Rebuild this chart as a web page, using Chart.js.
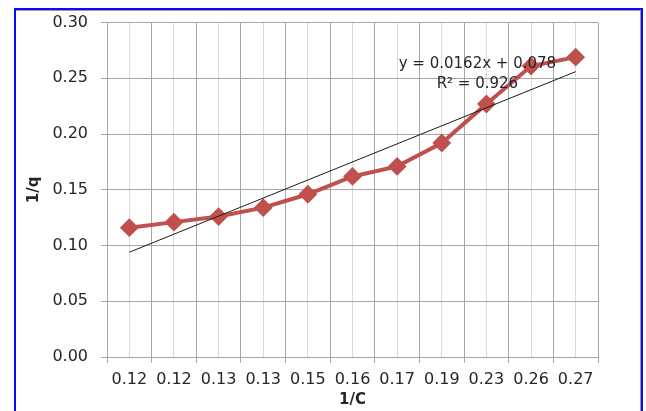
<!DOCTYPE html>
<html lang="en">
<head>
    <meta charset="UTF-8">
    <title>1/q vs 1/C</title>
    <script src="https://cdn.jsdelivr.net/npm/chart.js"></script>
    <style>
        body {
            margin: 0;
            background-color: #ffffff;
        }
        .wrap {
            position: relative;
            width: 646px;
            height: 411px;
            overflow: hidden;
        }
        .frame {
            position: absolute;
            left: 14px;
            top: 8px;
            width: 625px;
            height: 440px;
            border: 2px solid #0a0aff;
            box-shadow: inset 0 1px 0 #9a9a9a, inset -1px 0 0 #9a9a9a;
        }
        canvas {
            position: absolute;
            left: 0;
            top: 0;
        }
    </style>
</head>
<body>
    <div class="wrap">
        <div class="frame"></div>
        <canvas id="chart" width="646" height="411"></canvas>
    </div>

    <script>
        // data
        const categories = ['0.12', '0.12', '0.13', '0.13', '0.15', '0.16', '0.17', '0.19', '0.23', '0.26', '0.27'];
        const qValues = [0.116, 0.121, 0.126, 0.134, 0.146, 0.162, 0.171, 0.192, 0.227, 0.261, 0.269];
        const trendValues = [0.094, null, null, null, null, null, null, null, null, null, 0.256];
        const yTicks = [0, 0.05, 0.10, 0.15, 0.20, 0.25, 0.30];
        const equationLines = ['y = 0.0162x + 0.078', 'R² = 0.926'];

        const FONT = 'DejaVu Sans';
        const TEXT = '#262626';
        const MAJOR = '#a6a6a6';
        const MINOR = '#d9d9d9';

        // equation label of the trend line
        const equationPlugin = {
            id: 'equation',
            afterDatasetsDraw(chart) {
                const ctx = chart.ctx;
                const x = chart.scales.x.getPixelForValue(8) - 9;
                const y = chart.scales.y.getPixelForValue(0.263);
                ctx.save();
                ctx.font = '15px "' + FONT + '"';
                ctx.fillStyle = TEXT;
                ctx.textAlign = 'center';
                ctx.textBaseline = 'middle';
                equationLines.forEach((t, i) => ctx.fillText(t, x, y + i * 20));
                ctx.restore();
            }
        };

        new Chart(document.getElementById('chart'), {
            type: 'line',
            data: {
                labels: categories,
                datasets: [{
                    label: 'Linear (1/q)',
                    data: trendValues,
                    borderColor: '#1a1a1a',
                    borderWidth: 1,
                    pointRadius: 0,
                    spanGaps: true,
                    fill: false
                }, {
                    label: '1/q',
                    data: qValues,
                    borderColor: '#c0504d',
                    backgroundColor: '#c0504d',
                    borderWidth: 4,
                    pointStyle: 'rectRot',
                    pointRadius: 8,
                    pointBorderWidth: 2,
                    pointHoverRadius: 8,
                    fill: false
                }]
            },
            options: {
                responsive: false,
                animation: false,
                layout: { padding: { top: 21, right: 48, left: 0, bottom: 0 } },
                plugins: {
                    legend: { display: false },
                    tooltip: { enabled: false }
                },
                scales: {
                    x: {
                        type: 'category',
                        offset: true,
                        grid: { offset: true, color: MAJOR, tickLength: 6 },
                        border: { color: MAJOR },
                        ticks: {
                            color: TEXT,
                            font: { family: FONT, size: 16 },
                            padding: 7,
                            maxRotation: 0,
                            autoSkip: false
                        },
                        title: {
                            display: true,
                            text: '1/C',
                            color: TEXT,
                            font: { family: FONT, size: 15, weight: 'bold' },
                            padding: { top: 0, bottom: 2 }
                        },
                        afterFit(scale) { scale.height = 54; }
                    },
                    x2: {
                        type: 'category',
                        position: 'bottom',
                        offset: true,
                        grid: { offset: false, color: MINOR, drawTicks: false },
                        border: { display: false },
                        ticks: { display: false },
                        afterFit(scale) { scale.height = 0; }
                    },
                    y: {
                        min: 0,
                        max: 0.3,
                        afterBuildTicks(scale) {
                            scale.ticks = yTicks.map(v => ({ value: v }));
                        },
                        grid: { color: MAJOR, tickLength: 6 },
                        border: { color: MAJOR },
                        ticks: {
                            color: TEXT,
                            font: { family: FONT, size: 16 },
                            padding: 13,
                            callback: v => v.toFixed(2)
                        },
                        title: {
                            display: true,
                            text: '1/q',
                            color: TEXT,
                            font: { family: FONT, size: 15, weight: 'bold' },
                            padding: { top: 25, bottom: 0 }
                        },
                        afterFit(scale) { scale.width = 107; }
                    }
                }
            },
            plugins: [equationPlugin]
        });
    </script>
</body>
</html>
